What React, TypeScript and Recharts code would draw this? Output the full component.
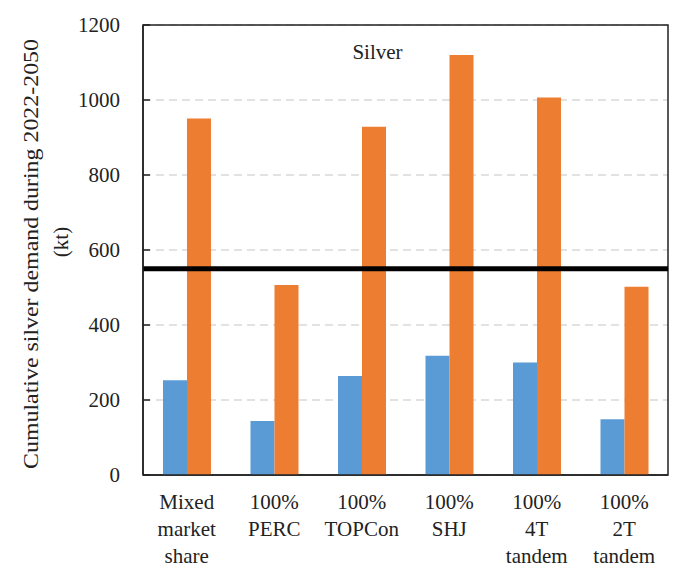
import {
  BarChart,
  Bar,
  XAxis,
  YAxis,
  CartesianGrid,
  ReferenceLine,
  ReferenceArea,
  Label,
} from "recharts";

const scenarios = [
  "Mixed\nmarket\nshare",
  "100%\nPERC",
  "100%\nTOPCon",
  "100%\nSHJ",
  "100%\n4T\ntandem",
  "100%\n2T\ntandem",
];
const lowDemand = [253, 144, 264, 318, 300, 149];
const highDemand = [951, 507, 929, 1120, 1007, 502];
const yTicks = [0, 200, 400, 600, 800, 1000, 1200];
const reserveLine = 550;

const data = scenarios.map((name, i) => ({
  name,
  low: lowDemand[i],
  high: highDemand[i],
}));

const FONT = "Liberation Serif, serif";

function CategoryTick(props: any) {
  const { x, y, payload } = props;
  const lines = String(payload.value).split("\n");
  return (
    <text
      x={x}
      y={y + 26}
      textAnchor="middle"
      style={{ fontFamily: FONT }}
      fontSize={21}
      fill="#222"
    >
      {lines.map((line, i) => (
        <tspan key={i} x={x} dy={i === 0 ? 0 : 27}>
          {line}
        </tspan>
      ))}
    </text>
  );
}

function YTitle(props: any) {
  const { viewBox } = props;
  const cy = viewBox.y + viewBox.height / 2;
  return (
    <g style={{ fontFamily: FONT }} fontSize={21} fill="#222">
      <text
        x={33}
        y={cy + 4}
        transform={`rotate(-90 33 ${cy + 4})`}
        textAnchor="middle"
        dominantBaseline="middle"
        textLength={430}
        lengthAdjust="spacingAndGlyphs"
      >
        Cumulative silver demand during 2022-2050
      </text>
      <text x={63} y={cy - 8} transform={`rotate(-90 63 ${cy - 8})`} textAnchor="middle" dominantBaseline="middle">
        (kt)
      </text>
    </g>
  );
}

export default function App() {
  return (
    <div style={{ position: "absolute", left: 0, top: 0, fontFamily: FONT }}>
      <BarChart
        width={673}
        height={569}
        data={data}
        margin={{ top: 25, right: 5, left: 0, bottom: 64 }}
        barGap={0}
        barSize={24}
        style={{ fontFamily: FONT }}
      >
        <CartesianGrid
          vertical={false}
          stroke="#d9d9d9"
          strokeDasharray="8 5"
          strokeWidth={1.5}
        />
        <XAxis
          dataKey="name"
          interval={0}
          height={30}
          tickLine={false}
          axisLine={{ stroke: "#222", strokeWidth: 1.5 }}
          tick={<CategoryTick />}
        />
        <YAxis
          width={143}
          domain={[0, 1200]}
          ticks={yTicks}
          interval={0}
          tickSize={-7}
          tickMargin={30}
          axisLine={{ stroke: "#222", strokeWidth: 1.5 }}
          tickLine={{ stroke: "#222", strokeWidth: 1.5 }}
          tick={{ fontFamily: FONT, fontSize: 21, fill: "#222" }}
        >
          <Label content={<YTitle />} />
        </YAxis>
        <ReferenceArea
          y1={0}
          y2={1200}
          fill="none"
          stroke="#222"
          strokeWidth={1.5}
          label={{
            value: "Silver",
            position: "insideTop",
            offset: 19,
            dx: -28,
            fontFamily: FONT,
            fontSize: 21,
            fill: "#222",
          }}
        />
        <Bar dataKey="low" fill="#5b9bd5" isAnimationActive={false} />
        <Bar dataKey="high" fill="#ed7d31" isAnimationActive={false} />
        <ReferenceLine y={reserveLine} stroke="#000" strokeWidth={5} />
      </BarChart>
    </div>
  );
}
